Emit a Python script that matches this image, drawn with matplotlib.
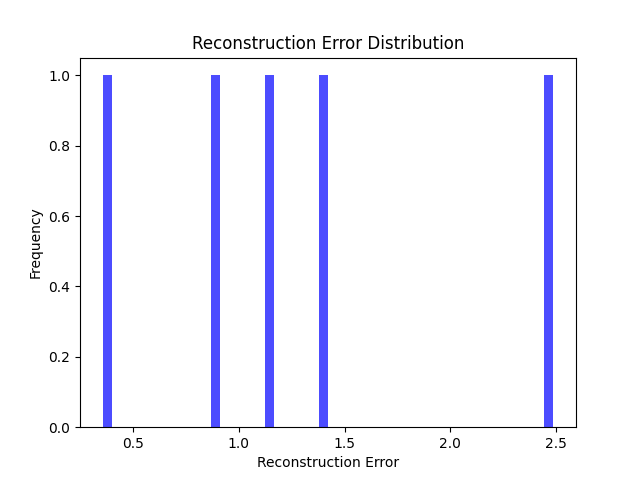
import matplotlib
matplotlib.use("Agg")
import matplotlib.pyplot as plt

errors = [0.357, 0.89, 1.145, 1.40, 2.487]

fig, ax = plt.subplots(figsize=(6.4, 4.8), dpi=100)
ax.hist(errors, bins=50, alpha=0.7, color='blue')
ax.set_title('Reconstruction Error Distribution')
ax.set_xlabel('Reconstruction Error')
ax.set_ylabel('Frequency')
fig.savefig('out.png')
